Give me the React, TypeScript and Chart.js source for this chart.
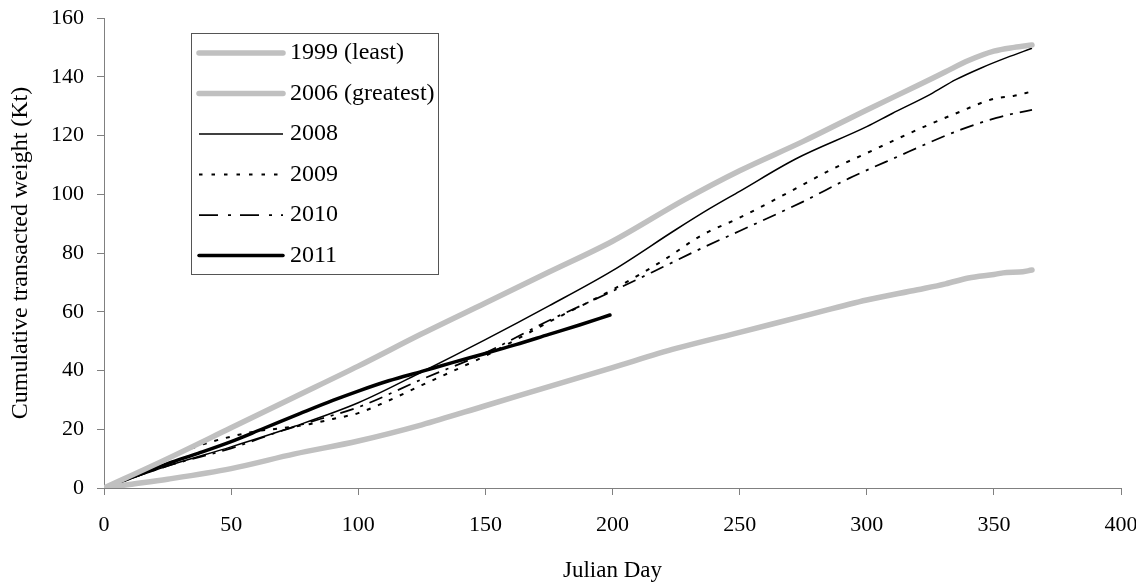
import React, { useEffect, useRef } from 'react';
import { Chart, registerables } from 'chart.js';

Chart.register(...registerables);

// ---- Data (Julian day vs cumulative transacted weight, Kt) ----
const days1999 = [0, 10, 25, 50, 75, 100, 125, 150, 175, 200, 225, 250, 275, 300, 320, 331, 340, 350, 355, 360, 365];
const kt1999 = [0, 1.2, 3.0, 6.6, 11.6, 16, 21.5, 28, 34.5, 41, 47.5, 53, 58.5, 64, 67.5, 69.5, 71.5, 72.7, 73.4, 73.5, 74.2];

const days2006 = [0, 25, 50, 75, 100, 125, 150, 175, 200, 228, 250, 275, 300, 320, 331, 340, 350, 358, 365];
const kt2006 = [0, 10, 20.5, 31, 41.5, 52.5, 63, 73.5, 84, 98, 108, 118, 128.7, 137, 141.7, 145.5, 148.7, 150, 150.8];

const days2008 = [0, 25, 50, 75, 100, 125, 150, 175, 200, 225, 238, 250, 272, 300, 310, 325, 335, 345, 355, 365];
const kt2008 = [0, 7.5, 14, 21, 29, 39.5, 50.5, 62, 74, 88, 95, 101, 112, 123, 127.5, 134, 139, 143, 146.5, 149.7];

const days2009 = [0, 15, 25, 37, 50, 60, 70, 80, 90, 100, 110, 125, 150, 175, 200, 220, 235, 250, 270, 287, 300, 320, 335, 350, 358, 365];
const kt2009 = [0, 6, 10, 14.3, 17.5, 19.3, 20.4, 21.6, 23.5, 25.5, 29, 35, 45, 56.5, 67.5, 77.5, 86, 92, 101, 108.8, 114, 122, 127.5, 132.5, 133.5, 135];

const days2010 = [0, 25, 50, 70, 85, 100, 125, 150, 175, 200, 220, 236, 250, 275, 293, 310, 337, 351, 358, 365];
const kt2010 = [0, 7.5, 13.5, 19.5, 23.5, 27.5, 37, 46, 57, 67, 75.3, 82, 87.5, 97.5, 105.4, 112, 122, 126, 127.5, 128.7];

const days2011 = [0, 10, 25, 37, 50, 62, 77, 90, 100, 112, 125, 137, 150, 162, 175, 187, 199];
const kt2011 = [0, 3.3, 8.3, 11.8, 15.8, 20, 25.3, 29.8, 33, 36.5, 39.7, 42.7, 45.8, 48.8, 52.3, 55.5, 58.9];

const seriesLabels = ['1999 (least)', '2006 (greatest)', '2008', '2009', '2010', '2011'];

const xMin = 0;
const xMax = 400;
const xStep = 50;
const yMin = 0;
const yMax = 160;
const yStep = 20;

const xTitle = 'Julian Day';
const yTitle = 'Cumulative transacted weight (Kt)';

const SERIF = "'Liberation Serif', 'Times New Roman', serif";

const toPoints = (xs: number[], ys: number[]) => xs.map((x, i) => ({ x, y: ys[i] }));

const boxLegend = {
  id: 'boxLegend',
  afterDraw(chart: any) {
    const { ctx, chartArea } = chart;
    const x0 = chartArea.left + 87;
    const y0 = chartArea.top + 15;
    const w = 247;
    const h = 241;
    ctx.save();
    ctx.fillStyle = '#ffffff';
    ctx.fillRect(x0, y0, w, h);
    ctx.strokeStyle = '#555555';
    ctx.lineWidth = 1;
    ctx.setLineDash([]);
    ctx.strokeRect(x0 + 0.5, y0 + 0.5, w, h);
    chart.data.datasets.forEach((ds: any, i: number) => {
      const y = y0 + 20 + i * 40.5;
      ctx.beginPath();
      ctx.setLineDash(ds.legendDash || ds.borderDash || []);
      ctx.strokeStyle = ds.borderColor;
      ctx.lineWidth = ds.borderWidth;
      ctx.lineCap = ds.borderCapStyle || 'butt';
      ctx.moveTo(x0 + 8, y);
      ctx.lineTo(x0 + 92, y);
      ctx.stroke();
      ctx.setLineDash([]);
      ctx.fillStyle = '#000000';
      ctx.font = `24px ${SERIF}`;
      ctx.textBaseline = 'middle';
      ctx.textAlign = 'left';
      ctx.fillText(ds.label, x0 + 99, y);
    });
    ctx.restore();
  },
};

export default function App() {
  const canvasRef = useRef<HTMLCanvasElement | null>(null);

  useEffect(() => {
    if (!canvasRef.current) return;
    const gray = '#c0c0c0';
    const chart = new Chart(canvasRef.current, {
      type: 'line',
      data: {
        datasets: [
          {
            label: seriesLabels[0],
            data: toPoints(days1999, kt1999),
            borderColor: gray,
            borderWidth: 5.5,
            borderCapStyle: 'round',
            borderJoinStyle: 'round',
          },
          {
            label: seriesLabels[1],
            data: toPoints(days2006, kt2006),
            borderColor: gray,
            borderWidth: 5.5,
            borderCapStyle: 'round',
            borderJoinStyle: 'round',
          },
          {
            label: seriesLabels[2],
            data: toPoints(days2008, kt2008),
            borderColor: '#000000',
            borderWidth: 1.5,
          },
          {
            label: seriesLabels[3],
            data: toPoints(days2009, kt2009),
            borderColor: '#000000',
            borderWidth: 2,
            borderDash: [4, 8],
            legendDash: [3.5, 9],
          } as any,
          {
            label: seriesLabels[4],
            data: toPoints(days2010, kt2010),
            borderColor: '#000000',
            borderWidth: 1.75,
            borderDash: [14, 7, 3, 7],
            legendDash: [19, 10, 3, 9],
          } as any,
          {
            label: seriesLabels[5],
            data: toPoints(days2011, kt2011),
            borderColor: '#000000',
            borderWidth: 3.5,
            borderCapStyle: 'round',
            borderJoinStyle: 'round',
          },
        ],
      },
      options: {
        responsive: false,
        animation: false,
        events: [],
        layout: { padding: { left: 0, top: 18, right: 15, bottom: 0 } },
        elements: {
          point: { radius: 0 },
          line: { cubicInterpolationMode: 'monotone', fill: false },
        },
        plugins: {
          legend: { display: false },
          tooltip: { enabled: false },
        },
        scales: {
          x: {
            type: 'linear',
            min: xMin,
            max: xMax,
            afterFit: (s: any) => {
              s.height = 98;
              s.paddingLeft = 0;
              s.paddingRight = 0;
            },
            ticks: {
              stepSize: xStep,
              color: '#000000',
              padding: 17,
              maxRotation: 0,
              font: { family: SERIF, size: 22 },
            },
            grid: {
              display: true,
              drawOnChartArea: false,
              drawTicks: true,
              tickLength: 7,
              color: '#808080',
            },
            border: { display: true, color: '#808080', width: 1 },
            title: {
              display: true,
              text: xTitle,
              color: '#000000',
              font: { family: SERIF, size: 23 },
              padding: { top: 0, bottom: 1 },
            },
          },
          y: {
            type: 'linear',
            min: yMin,
            max: yMax,
            afterFit: (s: any) => {
              s.width = 104;
              s.paddingTop = 0;
              s.paddingBottom = 0;
            },
            ticks: {
              stepSize: yStep,
              color: '#000000',
              padding: 13,
              font: { family: SERIF, size: 22 },
            },
            grid: {
              display: true,
              drawOnChartArea: false,
              drawTicks: true,
              tickLength: 7,
              color: '#808080',
            },
            border: { display: true, color: '#808080', width: 1 },
            title: {
              display: true,
              text: yTitle,
              color: '#000000',
              font: { family: SERIF, size: 24 },
              padding: { top: 6, bottom: 0 },
            },
          },
        },
      },
      plugins: [boxLegend],
    } as any);
    return () => chart.destroy();
  }, []);

  return (
    <div style={{ position: 'absolute', left: 0, top: 0, width: 1136, height: 586, background: '#ffffff' }}>
      <canvas ref={canvasRef} width={1136} height={586} style={{ display: 'block' }} />
    </div>
  );
}
